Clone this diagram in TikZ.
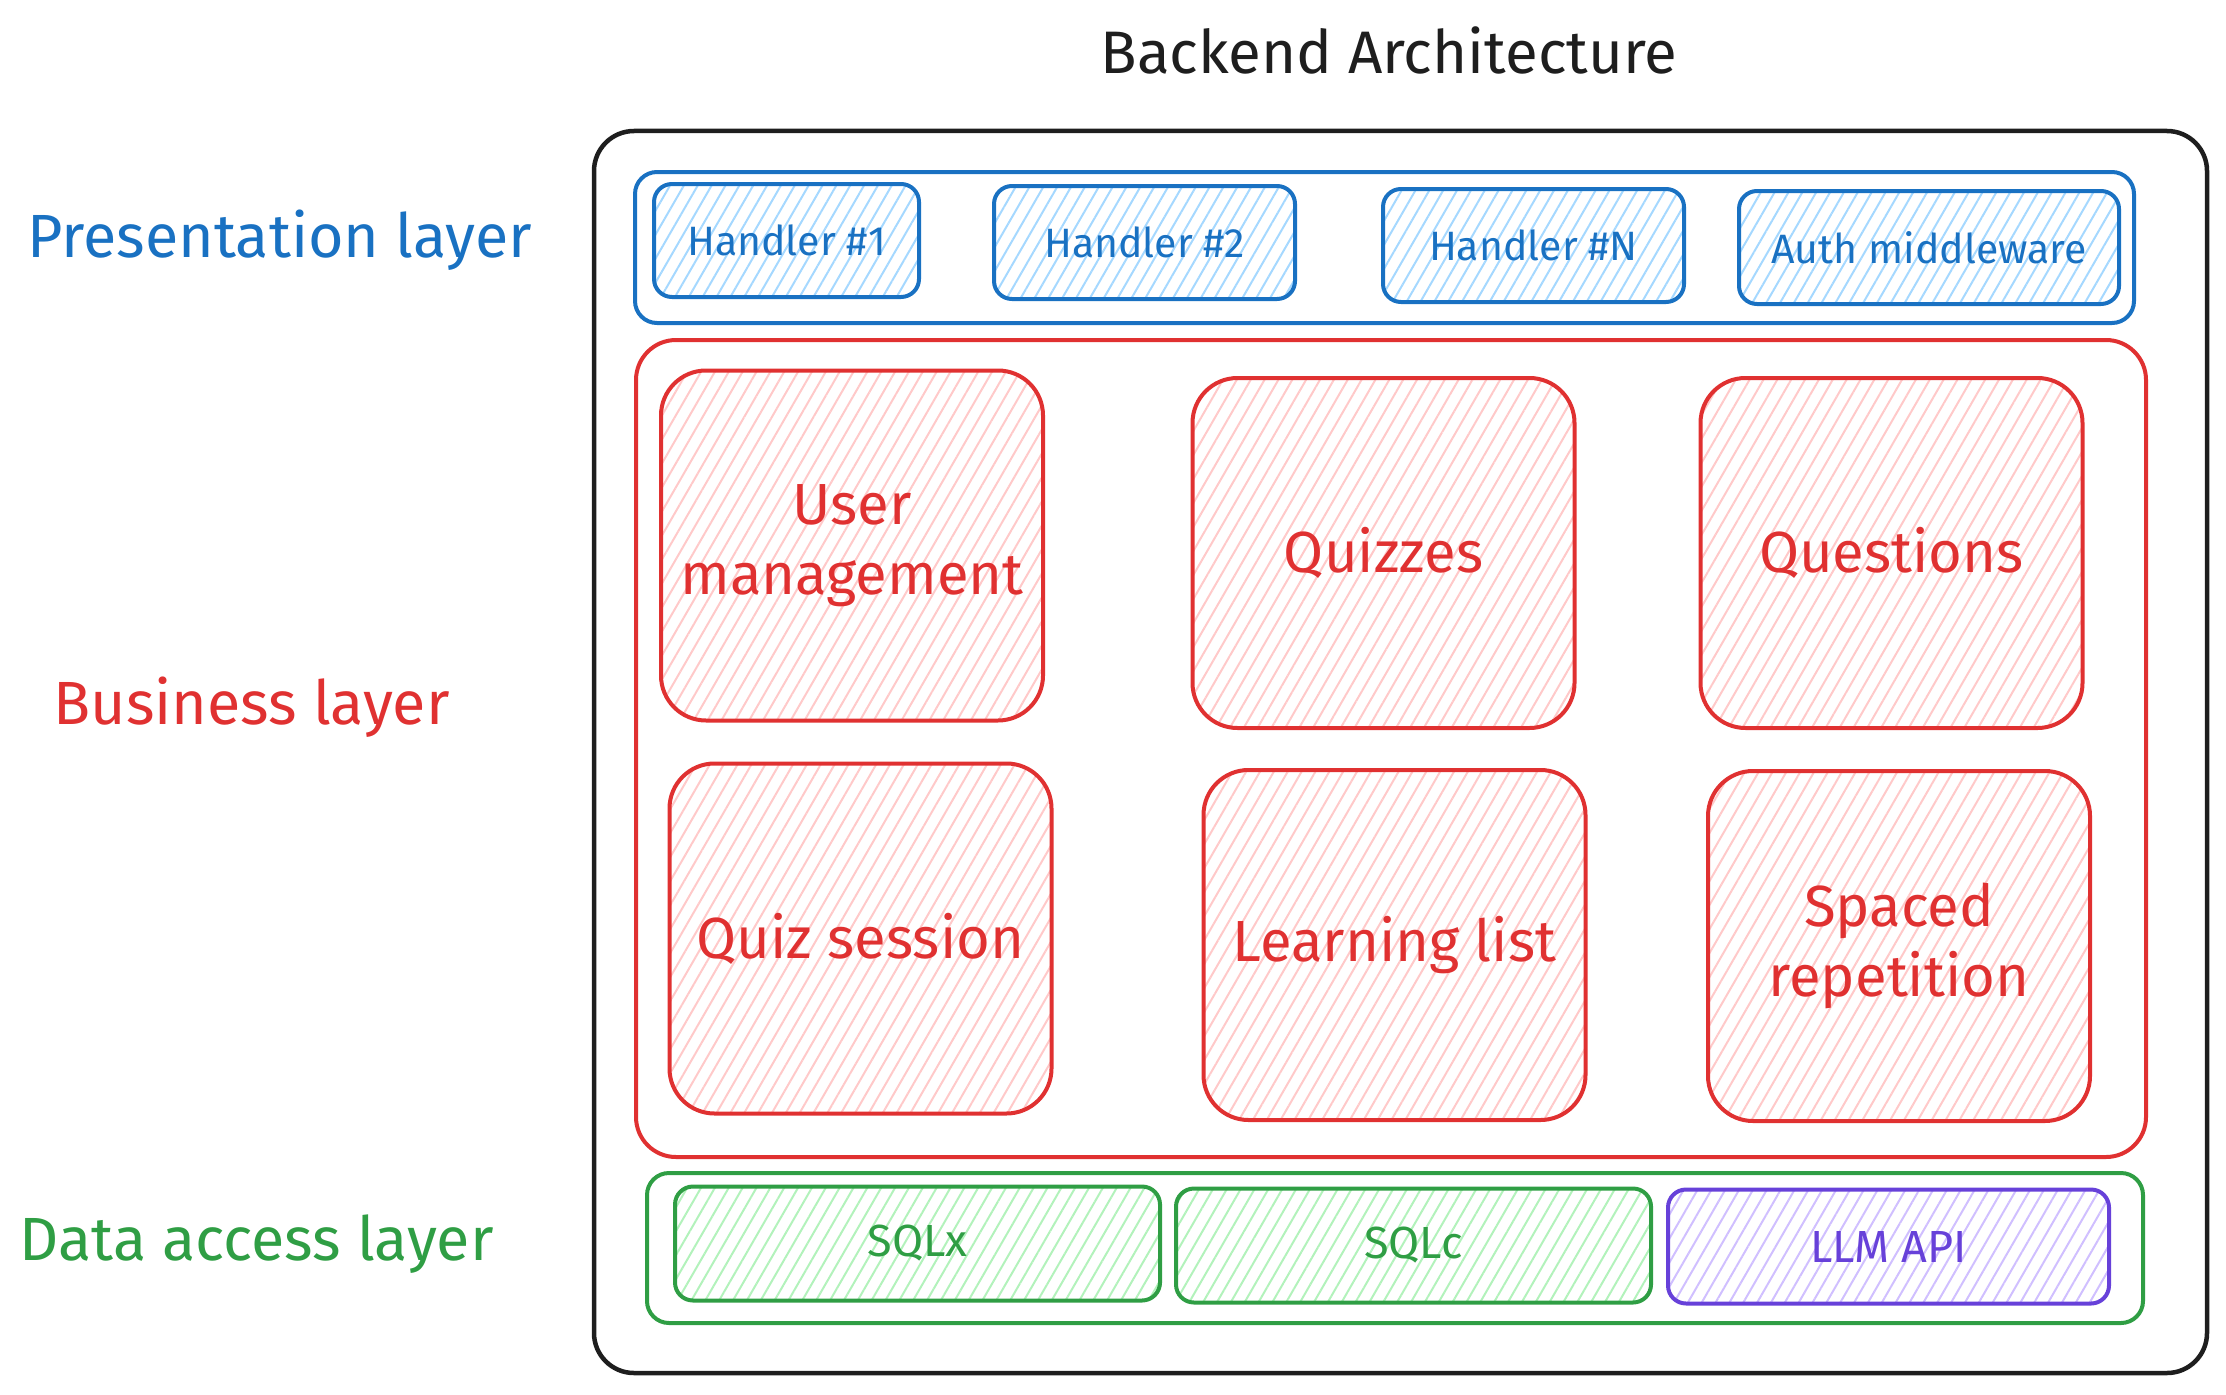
\documentclass[tikz,border=0pt]{standalone}
\usepackage{fontspec}
\setmainfont{Fira Sans}
\usetikzlibrary{patterns.meta}
\definecolor{ink}{HTML}{1E1E1E}
\definecolor{bluestroke}{HTML}{1971C2}
\definecolor{bluefill}{HTML}{A5D8FF}
\definecolor{redstroke}{HTML}{E03131}
\definecolor{redfill}{HTML}{FFC9C9}
\definecolor{greenstroke}{HTML}{2F9E44}
\definecolor{greenfill}{HTML}{B2F2BB}
\definecolor{violetstroke}{HTML}{6741D9}
\definecolor{violetfill}{HTML}{D0BFFF}
\begin{document}
\begin{tikzpicture}[x=1pt,y=-1pt,
    hatch/.style={pattern={Lines[angle=60,distance=12pt,line width=2pt]},pattern color=#1},
    layer/.style={draw=#1,line width=4pt,rounded corners=22pt},
    handler/.style={draw=bluestroke,line width=4pt,rounded corners=18pt,hatch=bluefill,
        text=bluestroke,font=\fontsize{41}{48}\selectfont,inner sep=0pt,minimum height=113pt},
    module/.style={draw=redstroke,line width=4pt,rounded corners=45pt,hatch=redfill,
        text=redstroke,font=\fontsize{58}{70}\selectfont,align=center,inner sep=0pt,
        minimum width=382pt,minimum height=350pt},
    store/.style={draw=#1stroke,line width=4pt,rounded corners=18pt,hatch=#1fill,
        text=#1stroke,font=\fontsize{45}{52}\selectfont,inner sep=0pt,minimum height=114pt},
    label/.style={anchor=west,text=#1,font=\fontsize{61}{72}\selectfont}]
\useasboundingbox (0,0) rectangle (2226,1394);

% title and outer frame
\node[text=ink,font=\fontsize{60}{72}\selectfont] (title) at (1389,50) {Backend Architecture};
\draw[ink,line width=4.5pt,rounded corners=40pt] (594,131) rectangle (2207,1373);

% layer names
\node[label=bluestroke] (presentation) at (24,240) {Presentation layer};
\node[label=redstroke] (business) at (50,707) {Business layer};
\node[label=greenstroke] (dataaccess) at (16,1244) {Data access layer};

% presentation layer
\draw[layer=bluestroke] (635,172) rectangle (2134,323);
\node[handler,minimum width=265pt] (handlerA) at (786.5,240.5) {Handler \#1};
\node[handler,minimum width=301pt] (handlerB) at (1144.5,242.5) {Handler \#2};
\node[handler,minimum width=301pt] (handlerN) at (1533.5,245.5) {Handler \#N};
\node[handler,minimum width=380pt] (auth) at (1929,247.5) {Auth middleware};

% business layer
\draw[layer=redstroke,rounded corners=40pt] (636,340) rectangle (2146,1157);
\node[module] (users) at (852,545.5) {User\\management};
\node[module] (quizzes) at (1383.5,553) {Quizzes};
\node[module] (questions) at (1891.5,553) {Questions};
\node[module] (session) at (860.5,938.5) {Quiz session};
\node[module] (learning) at (1394.5,945) {Learning list};
\node[module] (spaced) at (1899,946) {Spaced\\repetition};

% data access layer
\draw[layer=greenstroke] (647,1173) rectangle (2143,1323);
\node[store=green,minimum width=485pt] (sqlx) at (917.5,1243.5) {SQLx};
\node[store=green,minimum width=475pt] (sqlc) at (1413.5,1245.5) {SQLc};
\node[store=violet,minimum width=441pt] (llm) at (1888.5,1246.5) {LLM API};
\end{tikzpicture}
\end{document}
